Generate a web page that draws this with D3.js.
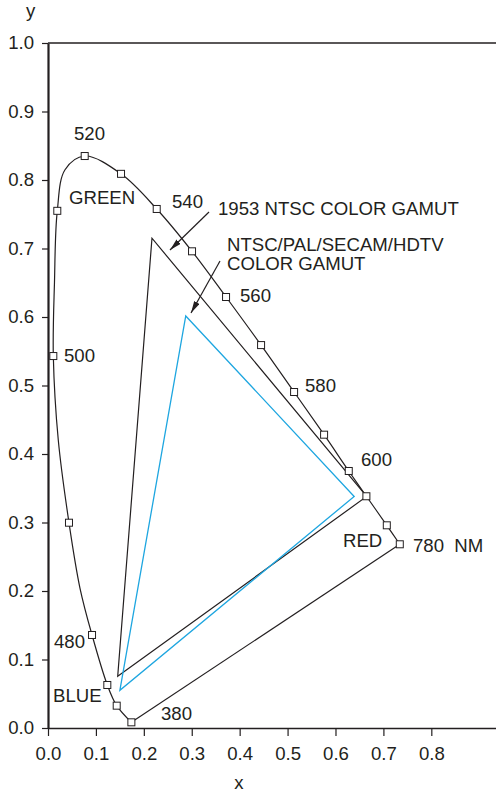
<!DOCTYPE html>
<html>
<head>
<meta charset="utf-8">
<script src="https://cdn.jsdelivr.net/npm/d3@7"></script>
<style>
  body { margin: 0; background: #fff; }
  text { font-family: "Liberation Sans", Arial, Helvetica, sans-serif; fill: #231f20; }
</style>
</head>
<body>
<div id="chart"></div>
<script>
// spectral locus (wavelength in nm, chromaticity x / y)
const locusWavelength = [380, 460, 470, 480, 485, 490, 495, 500, 505, 510, 515, 520, 530, 540, 550, 560, 570, 580, 590, 600, 610, 630, 780];
const locusX = [0.174, 0.1434, 0.1238, 0.0919, 0.0668, 0.0438, 0.0215, 0.0111, 0.0135, 0.0194, 0.0355, 0.0766, 0.1524, 0.2269, 0.3006, 0.3716, 0.4447, 0.5136, 0.5762, 0.6277, 0.6645, 0.7071, 0.7342];
const locusY = [0.0083, 0.0326, 0.0628, 0.1358, 0.204, 0.2997, 0.42, 0.543, 0.65, 0.755, 0.815, 0.835, 0.809, 0.7577, 0.6959, 0.6292, 0.559, 0.4905, 0.4282, 0.3752, 0.3383, 0.2959, 0.2682];
// wavelengths that carry a square marker
const markedWavelengths = [380, 460, 470, 480, 490, 500, 510, 520, 530, 540, 550, 560, 570, 580, 590, 600, 610, 630, 780];

// gamut triangles (R, G, B vertices)
const ntsc1953X = [0.665, 0.217, 0.1455];
const ntsc1953Y = [0.338, 0.715, 0.0755];
const hdtvX = [0.639, 0.2875, 0.150];
const hdtvY = [0.338, 0.6015, 0.055];

// tick labels
const xTicks = [0, 0.1, 0.2, 0.3, 0.4, 0.5, 0.6, 0.7, 0.8];
const yTicks = [0, 0.1, 0.2, 0.3, 0.4, 0.5, 0.6, 0.7, 0.8, 0.9, 1.0];

const width = 496, height = 794;
const ink = "#231f20";
const fs = 18.6;

const svg = d3.select("#chart")
    .append("svg")
    .attr("width", width)
    .attr("height", height);

const x = d3.scaleLinear().domain([0, 0.935]).range([48, 496]);
const y = d3.scaleLinear().domain([0, 1]).range([728, 43]);

// arrow head
svg.append("defs").append("marker")
    .attr("id", "arrow")
    .attr("viewBox", "0 0 12 6")
    .attr("refX", 12).attr("refY", 3)
    .attr("markerWidth", 12).attr("markerHeight", 6)
    .attr("markerUnits", "userSpaceOnUse")
    .attr("orient", "auto")
    .append("path")
    .attr("d", "M0,0 L12,3 L0,6 Z")
    .attr("fill", ink);

// axes
const xAxis = svg.append("g")
    .attr("transform", `translate(0, ${y(0)})`)
    .call(d3.axisBottom(x).tickValues(xTicks).tickSize(8).tickSizeOuter(0)
        .tickPadding(11).tickFormat(d3.format(".1f")));
xAxis.select(".domain").attr("stroke", ink).attr("stroke-width", 1.5);

const yAxis = svg.append("g")
    .attr("transform", `translate(${x(0)}, 0)`)
    .call(d3.axisLeft(y).tickValues(yTicks).tickSize(6).tickSizeOuter(0)
        .tickPadding(8).tickFormat(d3.format(".1f")));
yAxis.select(".domain").attr("stroke", ink).attr("stroke-width", 2.2);

svg.selectAll(".tick line").attr("stroke", ink).attr("stroke-width", 1.2);
svg.selectAll(".tick text").attr("font-size", fs).attr("font-family", null).style("fill", ink);

// top frame line
svg.append("line")
    .attr("x1", x(0)).attr("x2", width)
    .attr("y1", y(1)).attr("y2", y(1))
    .attr("stroke", ink).attr("stroke-width", 1.5);

svg.append("text").attr("x", 26).attr("y", 17).attr("font-size", fs).text("y");
svg.append("text").attr("x", 239).attr("y", 789).attr("text-anchor", "middle").attr("font-size", fs).text("x");

// spectral locus + line of purples
const locus = locusWavelength.map((w, i) => ({ w, x: locusX[i], y: locusY[i] }));
svg.append("path")
    .datum(locus)
    .attr("fill", "none")
    .attr("stroke", ink)
    .attr("stroke-width", 1.2)
    .attr("d", d3.line().x(d => x(d.x)).y(d => y(d.y)).curve(d3.curveCatmullRom.alpha(0.5)));
svg.append("line")
    .attr("x1", x(locus[locus.length - 1].x)).attr("y1", y(locus[locus.length - 1].y))
    .attr("x2", x(locus[0].x)).attr("y2", y(locus[0].y))
    .attr("stroke", ink).attr("stroke-width", 1.2);

// gamut triangles
const tri = (xs, ys) => xs.map((v, i) => [x(v), y(ys[i])]);
svg.append("polygon")
    .attr("points", tri(ntsc1953X, ntsc1953Y).join(" "))
    .attr("fill", "none").attr("stroke", ink).attr("stroke-width", 1.2);
svg.append("polygon")
    .attr("points", tri(hdtvX, hdtvY).join(" "))
    .attr("fill", "none").attr("stroke", "#1ea6e0").attr("stroke-width", 1.3);

// markers
svg.selectAll("rect.mk")
    .data(locus.filter(d => markedWavelengths.includes(d.w)))
    .join("rect")
    .attr("class", "mk")
    .attr("x", d => x(d.x) - 3.5)
    .attr("y", d => y(d.y) - 3.5)
    .attr("width", 7).attr("height", 7)
    .attr("fill", "#fff").attr("stroke", ink).attr("stroke-width", 1);

// annotation arrows (pixel layout)
const arrows = [
    [209, 212, 170, 250],
    [220, 261, 191, 313]
];
svg.selectAll("line.arrow")
    .data(arrows)
    .join("line")
    .attr("class", "arrow")
    .attr("x1", d => d[0]).attr("y1", d => d[1])
    .attr("x2", d => d[2]).attr("y2", d => d[3])
    .attr("stroke", ink).attr("stroke-width", 1.2)
    .attr("marker-end", "url(#arrow)");

// labels (pixel layout)
const labels = [
    ["520", 74, 140], ["GREEN", 69, 204], ["540", 172, 208],
    ["1953 NTSC COLOR GAMUT", 218, 215],
    ["NTSC/PAL/SECAM/HDTV", 227, 251], ["COLOR GAMUT", 227, 270],
    ["560", 240, 302], ["500", 64, 362], ["580", 305, 392],
    ["600", 361, 466], ["RED", 343, 547], ["780\u00a0\u00a0NM", 413, 552],
    ["480", 54, 648], ["BLUE", 53, 702], ["380", 161, 720]
];
svg.selectAll("text.lbl")
    .data(labels)
    .join("text")
    .attr("class", "lbl")
    .attr("x", d => d[1]).attr("y", d => d[2])
    .attr("font-size", fs)
    .text(d => d[0]);
</script>
</body>
</html>
